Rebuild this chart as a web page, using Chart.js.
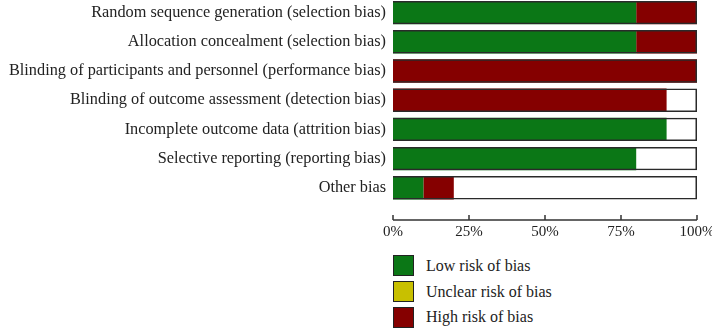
<!DOCTYPE html>
<html>
<head>
<meta charset="utf-8">
<script src="https://cdn.jsdelivr.net/npm/chart.js@4/dist/chart.umd.min.js"></script>
<style>
  body { margin: 0; background: #fff; }
  #wrap { position: relative; width: 712px; height: 328px; overflow: hidden; }
  #riskChart { position: absolute; left: 0; top: -2px; }
  #legend { position: absolute; left: 393px; top: 253px; font-family: "Liberation Serif", serif; font-size: 16px; color: #222; }
  .item { display: flex; align-items: center; height: 25.7px; }
  .box { width: 19px; height: 19px; border: 1px solid #222; margin-right: 12px; }
</style>
</head>
<body>
<div id="wrap">
  <canvas id="riskChart" width="712" height="245"></canvas>
  <div id="legend"></div>
</div>
<script>
// Risk of bias summary (percent of studies)
const domains = [
    "Random sequence generation (selection bias)",
    "Allocation concealment (selection bias)",
    "Blinding of participants and personnel (performance bias)",
    "Blinding of outcome assessment (detection bias)",
    "Incomplete outcome data (attrition bias)",
    "Selective reporting (reporting bias)",
    "Other bias"
];
const lowRisk     = [80, 80, 0, 0, 90, 80, 10];
const unclearRisk = [0, 0, 0, 0, 0, 0, 0];
const highRisk    = [20, 20, 100, 90, 0, 0, 10];
const fullBar     = [100, 100, 100, 100, 100, 100, 100];
const xTicks      = [0, 25, 50, 75, 100];

const colors = {low: '#0b7716', unclear: '#c8c000', high: '#850000'};
const serif = "'Liberation Serif', serif";

// axis line with small upward ticks, a bit below the bars
const axisPlugin = {
    id: 'axisLine',
    afterDraw(chart) {
        const x = chart.scales.x;
        const ctx = chart.ctx;
        const y = chart.chartArea.bottom + 17.6;
        ctx.save();
        ctx.strokeStyle = '#333';
        ctx.lineWidth = 1.5;
        ctx.beginPath();
        ctx.moveTo(x.getPixelForValue(0), y);
        ctx.lineTo(x.getPixelForValue(100), y);
        xTicks.forEach(v => {
            const px = x.getPixelForValue(v);
            ctx.moveTo(px, y);
            ctx.lineTo(px, y - 5);
        });
        ctx.stroke();
        ctx.restore();
    }
};

const segment = (label, data, color) => ({
    label, data, backgroundColor: color, borderWidth: 0,
    stack: 'risk', grouped: false, order: 1
});

const riskChart = new Chart(document.getElementById('riskChart'), {
    type: 'bar',
    data: {
        labels: domains,
        datasets: [
            segment('Low risk of bias', lowRisk, colors.low),
            segment('Unclear risk of bias', unclearRisk, colors.unclear),
            segment('High risk of bias', highRisk, colors.high),
            // outline around each full bar, drawn on top
            {label: 'frame', data: fullBar, backgroundColor: 'rgba(0,0,0,0)', borderColor: '#2a2a2a',
             borderWidth: 1.5, stack: 'frame', grouped: false, order: 0}
        ]
    },
    options: {
        indexAxis: 'y',
        responsive: false,
        animation: false,
        layout: {padding: {top: 0, right: 15, left: 0, bottom: 0}},
        datasets: {bar: {categoryPercentage: 1, barPercentage: 0.8}},
        plugins: {legend: {display: false}, tooltip: {enabled: false}},
        scales: {
            x: {
                stacked: true, min: 0, max: 100,
                grid: {display: false, drawTicks: false}, border: {display: false},
                afterFit: s => { s.paddingLeft = 0; s.paddingRight = 0; s.height = 40.6; },
                ticks: {stepSize: 25, padding: 21, maxRotation: 0, color: '#222',
                        font: {family: serif, size: 15}, callback: v => v + '%'}
            },
            y: {
                stacked: true,
                grid: {display: false, drawTicks: false}, border: {display: false},
                afterFit: s => { s.width = 393; s.paddingTop = 0; s.paddingBottom = 0; },
                ticks: {padding: 7, color: '#222', font: {family: serif, size: 16.3}}
            }
        }
    },
    plugins: [axisPlugin]
});

// vertical HTML legend under the axis
const legendEl = document.getElementById('legend');
riskChart.data.datasets.filter(ds => ds.stack === 'risk').forEach(ds => {
    const item = document.createElement('div');
    item.className = 'item';
    item.innerHTML = `<span class="box" style="background:${ds.backgroundColor}"></span>${ds.label}`;
    legendEl.appendChild(item);
});
</script>
</body>
</html>
